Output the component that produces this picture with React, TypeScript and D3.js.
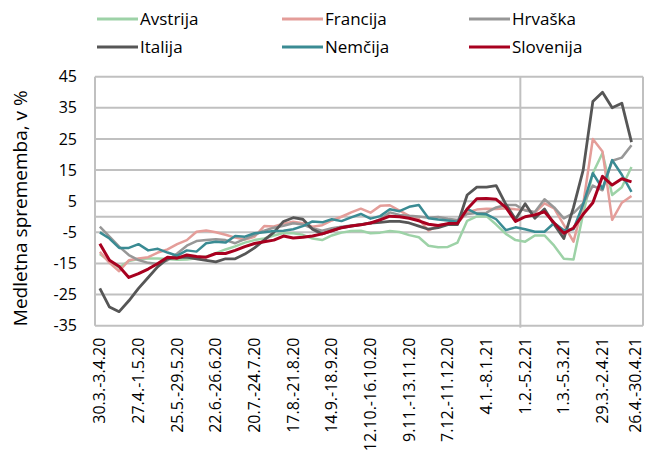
import React, { useRef, useEffect } from "react";
import * as d3 from "d3";

// weekly categories (Mon-Fri)
const weeks = [
  "30.3.-3.4.20", "6.4.-10.4.20", "13.4.-17.4.20", "20.4.-24.4.20", "27.4.-1.5.20",
  "4.5.-8.5.20", "11.5.-15.5.20", "18.5.-22.5.20", "25.5.-29.5.20", "1.6.-5.6.20",
  "8.6.-12.6.20", "15.6.-19.6.20", "22.6.-26.6.20", "29.6.-3.7.20", "6.7.-10.7.20",
  "13.7.-17.7.20", "20.7.-24.7.20", "27.7.-31.7.20", "3.8.-7.8.20", "10.8.-14.8.20",
  "17.8.-21.8.20", "24.8.-28.8.20", "31.8.-4.9.20", "7.9.-11.9.20", "14.9.-18.9.20",
  "21.9.-25.9.20", "28.9.-2.10.20", "5.10.-9.10.20", "12.10.-16.10.20", "19.10.-23.10.20",
  "26.10.-30.10.20", "2.11.-6.11.20", "9.11.-13.11.20", "16.11.-20.11.20", "23.11.-27.11.20",
  "30.11.-4.12.20", "7.12.-11.12.20", "14.12.-18.12.20", "21.12.-25.12.20", "28.12.-1.1.21",
  "4.1.-8.1.21", "11.1.-15.1.21", "18.1.-22.1.21", "25.1.-29.1.21", "1.2.-5.2.21",
  "8.2.-12.2.21", "15.2.-19.2.21", "22.2.-26.2.21", "1.3.-5.3.21", "8.3.-12.3.21",
  "15.3.-19.3.21", "22.3.-26.3.21", "29.3.-2.4.21", "5.4.-9.4.21", "12.4.-16.4.21",
  "19.4.-23.4.21", "26.4.-30.4.21",
];

const tickLabels = [
  "30.3.-3.4.20", "27.4.-1.5.20", "25.5.-29.5.20", "22.6.-26.6.20", "20.7.-24.7.20",
  "17.8.-21.8.20", "14.9.-18.9.20", "12.10.-16.10.20", "9.11.-13.11.20", "7.12.-11.12.20",
  "4.1.-8.1.21", "1.2.-5.2.21", "1.3.-5.3.21", "29.3.-2.4.21", "26.4.-30.4.21",
];

const markerWeek = "1.2.-5.2.21";
const yTicks = [45, 35, 25, 15, 5, -5, -15, -25, -35];

const avstrija = [
  -12, -14.3, -16.3, -14.2, -13.6, -13.4, -13.4, -13.6, -13.8, -13.7,
  -13.3, -12.8, -11.7, -10.5, -9.5, -8.3, -7.5, -7, -6, -5.2,
  -5.3, -5.8, -7, -7.5, -6, -5.1, -4.6, -4.5, -5.3, -5.1,
  -4.6, -4.9, -5.9, -6.6, -9.3, -9.8, -9.7, -8.3, -1.3, 0.1,
  0.2, -2.5, -5.5, -7.5, -8, -6, -6, -9.3, -13.5, -13.7,
  1, 14, 20.5, 7, 9.5, 16,
];
const francija = [
  -11.3, -14.8, -17.5, -14, -13.4, -13, -11.5, -10.5, -8.8, -7.5,
  -4.8, -4.4, -5, -5.8, -6.7, -7.3, -6.4, -3, -3.1, -2.2,
  -1.6, -2.1, -3.2, -2.7, -1.2, 0, 1.4, 2.6, 1.3, 3.5,
  3.7, 2, 0.3, -0.7, -4.5, -2.8, -2.2, -2.1, 1.5, 2.3,
  2.6, 2.5, 2.7, 2.4, 2.2, 1.3, 4.3, 2.7, -2.6, -8,
  4, 25, 21, -1, 4.5, 6.7,
];
const hrvaska = [
  -3.2, -6.4, -9.6, -12.3, -13.9, -14.8, -15.2, -14, -11.8, -9.3,
  -7.8, -7.5, -7.2, -7.5, -8.5, -7.2, -5.8, -4.5, -3.5, -2.9,
  -2.1, -2.5, -3.7, -4.5, -3.7, -3.2, -2.8, -2.5, -2.1, -0.8,
  1.4, 0.6, 0.3, 0.1, -0.3, -0.1, -0.6, -1, 0.9, 1.2,
  1.3, 3, 3.8, 3.8, 2, 1.5, 5.6, 3, -0.5, 1.2,
  4.3, 10, 8.5, 18, 19, 23,
];
const italija = [
  -23, -29, -30.5, -27, -23, -19.5, -16, -13.5, -13, -13,
  -13.5, -14, -14.5, -13.5, -13.5, -12, -10, -7.5, -5, -1.5,
  -0.3, -0.8, -4, -5.5, -4.5, -3.5, -3, -2.5, -2, -1.8,
  -1.5, -1.5, -2, -3, -4, -3.5, -2.5, -2.5, 7, 9.5,
  9.5, 10, 4, -0.8, 4.2, -0.5, 2.5, -2.5, -7, 3,
  15, 37, 40, 35, 36.5, 24,
];
const nemcija = [
  -5, -7, -10, -10, -8.8, -10.8, -10.3, -11.5, -12.5, -10.8,
  -11.2, -8.5, -8, -8.3, -6.2, -6.4, -5.3, -5, -4.6, -4.5,
  -4, -3, -1.5, -1.8, -0.8, -1.4, -0.2, 0.9, -0.6, 0.2,
  2.4, 1.8, 3.2, 3.8, -0.5, -0.9, -1.2, -1.6, 2.5, 1,
  0.8, -0.8, -4.3, -3.4, -4, -4.8, -4.8, -2, -4.3, -4,
  4, 14, 9, 18.2, 13.5, 8,
];
const slovenija = [
  -8.7, -14, -16, -19.5, -18.3, -16.8, -15, -13, -13.3, -12.3,
  -12.8, -13, -11.8, -11.8, -10.8, -9.6, -8.6, -8, -7.5, -6.2,
  -6.8, -6.6, -6.2, -5.5, -4.5, -3.5, -3, -2.6, -2, -1,
  0.2, 0, -0.5, -1.3, -2.4, -2.8, -2.2, -2.1, 2.5, 5.8,
  5.9, 5.6, 3, -1.5, 0, 0.6, 1.6, -2, -5.3, -3.6,
  0.8, 4.5, 13, 10.2, 12.2, 11.2,
];

const series = [
  { name: "Avstrija", color: "#9dd2a7", width: 2.5, values: avstrija },
  { name: "Francija", color: "#e49d99", width: 2.5, values: francija },
  { name: "Hrvaška", color: "#979797", width: 2.5, values: hrvaska },
  { name: "Italija", color: "#565656", width: 2.8, values: italija },
  { name: "Nemčija", color: "#3a8b93", width: 2.5, values: nemcija },
  { name: "Slovenija", color: "#a8001f", width: 3, values: slovenija },
];

const FONT = "'Open Sans', 'Noto Sans', sans-serif";

const LineChart = () => {
  const chartRef = useRef<HTMLDivElement>(null);

  useEffect(() => {
    const width = 647;
    const height = 450;
    const left = 95;
    const right = 643;
    const top = 76.7;
    const bottom = 325.7;

    const x = d3.scaleBand<string>()
      .domain(weeks)
      .range([left, 646]);

    const cx = (w: string) => (x(w) as number) + x.bandwidth() / 2;

    const y = d3.scaleLinear()
      .domain([-35, 45])
      .range([bottom, top]);

    const svg = d3.create("svg")
      .attr("width", width)
      .attr("height", height)
      .attr("viewBox", [0, 0, width, height])
      .style("position", "absolute")
      .style("left", "0px")
      .style("top", "0px")
      .style("font-family", FONT);

    const grid = "#c0c0c0";

    // horizontal gridlines + zero axis
    svg.append("g")
      .selectAll("line")
      .data([...yTicks, 0])
      .join("line")
      .attr("x1", left)
      .attr("x2", right)
      .attr("y1", d => y(d))
      .attr("y2", d => y(d))
      .attr("stroke", grid)
      .attr("stroke-width", 2);

    // plot border sides
    svg.append("g")
      .selectAll("line")
      .data([left, right])
      .join("line")
      .attr("x1", d => d)
      .attr("x2", d => d)
      .attr("y1", top)
      .attr("y2", bottom)
      .attr("stroke", grid)
      .attr("stroke-width", 2);

    // vertical marker line
    svg.append("line")
      .attr("x1", x(markerWeek) as number)
      .attr("x2", x(markerWeek) as number)
      .attr("y1", top)
      .attr("y2", bottom + 2)
      .attr("stroke", grid)
      .attr("stroke-width", 2);

    // y tick labels
    svg.append("g")
      .selectAll("text")
      .data(yTicks)
      .join("text")
      .attr("x", 77)
      .attr("y", d => y(d))
      .attr("dy", "0.35em")
      .attr("text-anchor", "end")
      .attr("font-size", 16)
      .attr("fill", "#000")
      .text(d => d);

    // x tick labels (last one nudged in so it stays on the page)
    svg.append("g")
      .selectAll("text")
      .data(tickLabels)
      .join("text")
      .attr("transform", d => `translate(${Math.min(cx(d), 635)},${bottom + 12}) rotate(-90)`)
      .attr("dy", "0.35em")
      .attr("text-anchor", "end")
      .attr("font-size", 16)
      .attr("fill", "#000")
      .text(d => d);

    // y axis title
    svg.append("text")
      .attr("transform", `translate(20,${(top + bottom) / 2 + 7}) rotate(-90)`)
      .attr("dy", "0.35em")
      .attr("text-anchor", "middle")
      .attr("font-size", 19)
      .attr("fill", "#000")
      .text("Medletna sprememba, v %");

    const line = d3.line<number>()
      .x((d, i) => cx(weeks[i]))
      .y(d => y(d));

    svg.append("g")
      .selectAll("path")
      .data(series)
      .join("path")
      .attr("d", d => line(d.values))
      .attr("fill", "none")
      .attr("stroke", d => d.color)
      .attr("stroke-width", d => d.width)
      .attr("stroke-linejoin", "round");

    // legend: 3 columns x 2 rows
    const colX = [97, 282, 469];
    const rowY = [19, 47];
    const legend = svg.append("g");
    series.forEach((s, i) => {
      const g = legend.append("g")
        .attr("transform", `translate(${colX[i % 3]},${rowY[Math.floor(i / 3)]})`);
      g.append("line")
        .attr("x1", 0)
        .attr("x2", 41)
        .attr("stroke", s.color)
        .attr("stroke-width", 3);
      g.append("text")
        .attr("x", 43)
        .attr("dy", "0.35em")
        .attr("font-size", 17)
        .attr("fill", "#000")
        .text(s.name);
    });

    chartRef.current!.innerHTML = "";
    chartRef.current!.appendChild(svg.node()!);
  }, []);

  return <div ref={chartRef} />;
};

export default function App() {
  return <LineChart />;
}
